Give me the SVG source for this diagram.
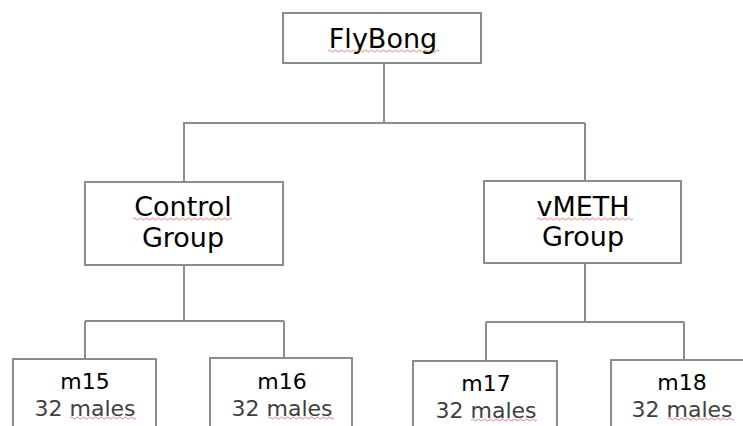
<svg xmlns="http://www.w3.org/2000/svg" width="743" height="426" viewBox="0 0 743 426">
<style>
.box{fill:#fff;stroke:#8c8c8c;stroke-width:2}
.ln{fill:none;stroke:#8c8c8c;stroke-width:2}
.t{font-family:"DejaVu Sans",Verdana,sans-serif;text-anchor:middle;fill:#000}
.big{font-size:27px}
.sm{font-size:22px}
.g{fill:#404040}
.sq{fill:none;stroke:#e06060;stroke-width:0.8}
</style>
<rect width="743" height="426" fill="#fff"/>
<g id="connectors">
<path class="ln" d="M384 63V123M183 123H585M184 123V182M585 123V181"/>
<path class="ln" d="M184 265V321M85 321H284M85 321V359M284 321V358"/>
<path class="ln" d="M585 263V322M486 322H684M486 322V361M684 322V360"/>
</g>
<g id="flybong">
<rect class="box" x="283" y="13" width="198" height="50"/>
<text class="t big" x="383" y="48">FlyBong</text>
<path class="sq" d="M328 51q1.5-2 3 0t3 0t3 0t3 0t3 0t3 0t3 0t3 0t3 0t3 0t3 0t3 0t3 0t3 0t3 0t3 0t3 0t3 0t3 0t3 0t3 0t3 0t3 0t3 0t3 0t3 0t3 0t3 0t3 0t3 0t3 0t3 0t3 0t3 0t3 0t3 0t3 0"/>
</g>
<g id="control">
<rect class="box" x="85" y="182" width="198" height="83"/>
<text class="t big" x="183" y="216">Control</text>
<text class="t big" x="183" y="247">Group</text>
<path class="sq" d="M133 219q1.5-2 3 0t3 0t3 0t3 0t3 0t3 0t3 0t3 0t3 0t3 0t3 0t3 0t3 0t3 0t3 0t3 0t3 0t3 0t3 0t3 0t3 0t3 0t3 0t3 0t3 0t3 0t3 0t3 0t3 0t3 0t3 0t3 0t3 0"/>
</g>
<g id="vmeth">
<rect class="box" x="484" y="181" width="197" height="82"/>
<text class="t big" x="583" y="216">vMETH</text>
<text class="t big" x="583" y="246">Group</text>
<path class="sq" d="M537 219q1.5-2 3 0t3 0t3 0t3 0t3 0t3 0t3 0t3 0t3 0t3 0t3 0t3 0t3 0t3 0t3 0t3 0t3 0t3 0t3 0t3 0t3 0t3 0t3 0t3 0t3 0t3 0t3 0t3 0t3 0t3 0t3 0t3 0"/>
</g>
<g id="m15">
<rect class="box" x="13" y="359" width="143" height="80"/>
<text class="t sm" x="85" y="389">m15</text>
<text class="t sm g" x="85" y="416">32 males</text>
<path class="sq" d="M70 418q1.5-2 3 0t3 0t3 0t3 0t3 0t3 0t3 0t3 0t3 0t3 0t3 0t3 0t3 0t3 0t3 0t3 0t3 0t3 0t3 0t3 0t3 0t3 0"/>
</g>
<g id="m16">
<rect class="box" x="210" y="358" width="142" height="80"/>
<text class="t sm" x="282" y="389">m16</text>
<text class="t sm g" x="282" y="416">32 males</text>
<path class="sq" d="M268 418q1.5-2 3 0t3 0t3 0t3 0t3 0t3 0t3 0t3 0t3 0t3 0t3 0t3 0t3 0t3 0t3 0t3 0t3 0t3 0t3 0t3 0t3 0t3 0"/>
</g>
<g id="m17">
<rect class="box" x="413" y="361" width="144" height="80"/>
<text class="t sm" x="486" y="391">m17</text>
<text class="t sm g" x="486" y="418">32 males</text>
<path class="sq" d="M471 420q1.5-2 3 0t3 0t3 0t3 0t3 0t3 0t3 0t3 0t3 0t3 0t3 0t3 0t3 0t3 0t3 0t3 0t3 0t3 0t3 0t3 0t3 0t3 0"/>
</g>
<g id="m18">
<rect class="box" x="611" y="360" width="144" height="80"/>
<text class="t sm" x="682" y="390">m18</text>
<text class="t sm g" x="682" y="417">32 males</text>
<path class="sq" d="M668 419q1.5-2 3 0t3 0t3 0t3 0t3 0t3 0t3 0t3 0t3 0t3 0t3 0t3 0t3 0t3 0t3 0t3 0t3 0t3 0t3 0t3 0t3 0t3 0"/>
</g>
</svg>
